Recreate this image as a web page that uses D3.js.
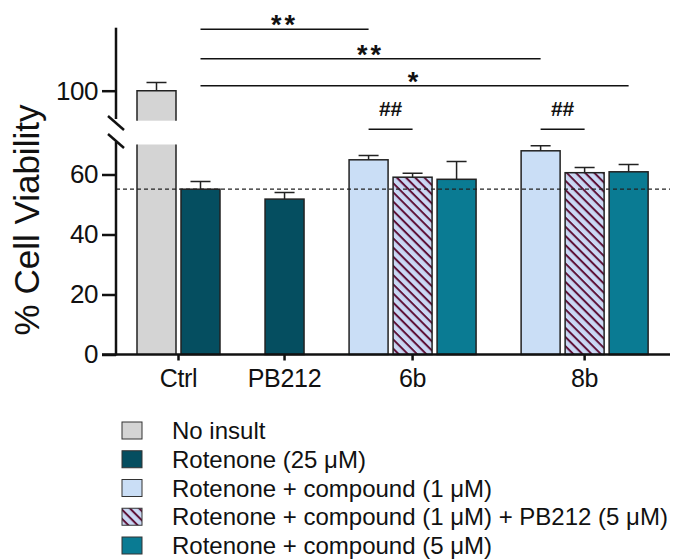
<!DOCTYPE html>
<html>
<head>
<meta charset="utf-8">
<script src="https://cdn.jsdelivr.net/npm/d3@7"></script>
<style>
  body { margin: 0; background: #fff; }
  svg { display: block; font-family: "Liberation Sans", Arial, sans-serif; }
</style>
</head>
<body>
<svg id="chart" width="673" height="559"></svg>
<script>
// data
var groups = ["Ctrl", "PB212", "6b", "8b"];
var treatments = ["noinsult", "rot", "c1", "c1pb", "c5"];
var legendLabels = [
  "No insult",
  "Rotenone (25 \u03bcM)",
  "Rotenone + compound (1 \u03bcM)",
  "Rotenone + compound (1 \u03bcM) + PB212 (5 \u03bcM)",
  "Rotenone + compound (5 \u03bcM)"
];
var barGroup = ["Ctrl", "Ctrl", "PB212", "6b", "6b", "6b", "8b", "8b", "8b"];
var barTreat = ["noinsult", "rot", "rot", "c1", "c1pb", "c5", "c1", "c1pb", "c5"];
var barMean  = [100, 55.1, 51.8, 64.9, 59.1, 58.4, 67.9, 60.6, 60.9];
var barErr   = [2.7, 2.6, 2.2, 1.4, 1.3, 5.9, 1.7, 1.7, 2.4];
var yTicksLow = [0, 20, 40, 60];
var yTicksHigh = [100];
var refLine = 55.1;
// significance brackets: from bar, to bar, label
var sigFrom = [1, 1, 1, 3, 6];
var sigTo   = [3, 6, 8, 4, 7];
var sigText = ["**", "**", "*", "##", "##"];

var svg = d3.select("#chart");
var axisX = 116, baseY = 354.5, xEnd = 670;

var color = d3.scaleOrdinal().domain(treatments)
  .range(["#d4d4d4", "#054e60", "#cadef6", "url(#hatch)", "#0a7b93"]);

// hatched fill
var pat = svg.append("defs").append("pattern")
  .attr("id", "hatch").attr("patternUnits", "userSpaceOnUse")
  .attr("width", 6.5).attr("height", 6.5)
  .attr("patternTransform", "rotate(45)");
pat.append("rect").attr("width", 6.5).attr("height", 6.5).attr("fill", "#cad8f4");
pat.append("rect").attr("width", 6.5).attr("height", 2).attr("fill", "#5e1238");

// broken y axis: two linear segments
var yLow = d3.scaleLinear().domain([0, 70]).range([baseY, 144.5]);
var yHigh = d3.scaleLinear().domain([90, 121]).range([120.7, 27.7]);
function yv(v) { return v > 80 ? yHigh(v) : yLow(v); }

// slot positions: bars 44px apart, extra gap between groups
var slots = barGroup.map(function(g, i) { return i + groups.indexOf(g) * 0.91; });
var x = d3.scaleLinear().domain([0, 1]).range([156.5, 200.5]);
var barW = 39;
function groupCenter(g) {
  return d3.mean(slots.filter(function(s, i) { return barGroup[i] == g; }).map(x));
}

// bars (the no-insult bar is split across the break)
barMean.forEach(function(m, i) {
  var cx = x(slots[i]);
  var g = svg.append("g");
  if (m > 80) {
    g.append("rect").attr("x", cx - barW/2).attr("y", yLow(70)).attr("width", barW)
      .attr("height", baseY - yLow(70));
    g.append("rect").attr("x", cx - barW/2).attr("y", yHigh(m)).attr("width", barW)
      .attr("height", yHigh(90) - yHigh(m));
    g.selectAll("rect").attr("fill", color(barTreat[i])).attr("stroke", "none");
    // open edges at the break
    g.append("path").attr("fill", "none").attr("stroke", "#222").attr("stroke-width", 1.5)
      .attr("d", "M" + (cx - barW/2) + "," + baseY + "V" + yLow(70) +
        "M" + (cx + barW/2) + "," + baseY + "V" + yLow(70) +
        "M" + (cx - barW/2) + "," + yHigh(90) + "V" + yHigh(m) + "H" + (cx + barW/2) + "V" + yHigh(90));
  } else {
    g.append("rect").attr("x", cx - barW/2).attr("y", yLow(m)).attr("width", barW)
      .attr("height", baseY - yLow(m))
      .attr("fill", color(barTreat[i])).attr("stroke", "#222").attr("stroke-width", 1.5);
  }
  var top = yv(m + barErr[i]);
  g.append("path").attr("fill", "none").attr("stroke", "#222").attr("stroke-width", 1.5)
    .attr("d", "M" + cx + "," + yv(m) + "V" + top + "M" + (cx - 10) + "," + top + "H" + (cx + 10));
});

// reference dashed line
svg.append("line").attr("x1", axisX).attr("x2", xEnd)
  .attr("y1", yLow(refLine)).attr("y2", yLow(refLine))
  .attr("stroke", "#222").attr("stroke-width", 1.2).attr("stroke-dasharray", "4,3");

// y axes
var axLow = svg.append("g").attr("transform", "translate(" + axisX + ",0)")
  .call(d3.axisLeft(yLow).tickValues(yTicksLow).tickSize(14).tickPadding(4));
var axHigh = svg.append("g").attr("transform", "translate(" + axisX + ",0)")
  .call(d3.axisLeft(yHigh).tickValues(yTicksHigh).tickSize(14).tickPadding(4));
[axLow, axHigh].forEach(function(a) {
  a.select(".domain").remove();
  a.selectAll("line").attr("stroke", "#111").attr("stroke-width", 2.5);
  a.selectAll("text").attr("font-size", 26).attr("fill", "#111")
    .attr("font-family", "Liberation Sans, Arial, sans-serif").attr("letter-spacing", -0.5);
});
svg.append("line").attr("x1", axisX).attr("x2", axisX).attr("y1", yHigh(121)).attr("y2", 119)
  .attr("stroke", "#111").attr("stroke-width", 2.5);
svg.append("line").attr("x1", axisX).attr("x2", axisX).attr("y1", 142).attr("y2", baseY + 1)
  .attr("stroke", "#111").attr("stroke-width", 2.5);
// break marks
[116, 134].forEach(function(y0) {
  svg.append("line").attr("x1", 108).attr("y1", y0).attr("x2", 124).attr("y2", y0 + 14)
    .attr("stroke", "#111").attr("stroke-width", 2.5);
});

svg.append("text").attr("transform", "translate(39,220) rotate(-90)")
  .attr("text-anchor", "middle").attr("font-size", 35).attr("fill", "#111")
  .text("% Cell Viability");

// x axis
svg.append("line").attr("x1", axisX - 14).attr("x2", xEnd).attr("y1", baseY).attr("y2", baseY)
  .attr("stroke", "#111").attr("stroke-width", 2.5);
groups.forEach(function(g) {
  var cx = groupCenter(g);
  svg.append("line").attr("x1", cx).attr("x2", cx).attr("y1", baseY).attr("y2", baseY + 6)
    .attr("stroke", "#111").attr("stroke-width", 2.5);
  svg.append("text").attr("x", cx).attr("y", 387).attr("text-anchor", "middle")
    .attr("font-size", 25).attr("fill", "#111").attr("letter-spacing", -0.3).text(g);
});

// significance brackets
var sigY = [29.3, 58.7, 85.7, 129.3, 129.3];
sigText.forEach(function(t, k) {
  var x1 = x(slots[sigFrom[k]]), x2 = x(slots[sigTo[k]]);
  svg.append("line").attr("x1", x1).attr("x2", x2).attr("y1", sigY[k]).attr("y2", sigY[k])
    .attr("stroke", "#111").attr("stroke-width", 1.5);
  var isHash = t.charAt(0) == "#";
  svg.append("text").attr("x", (x1 + x2) / 2).attr("y", isHash ? sigY[k] - 13 : sigY[k] + 5)
    .attr("text-anchor", "middle").attr("font-weight", "bold")
    .attr("letter-spacing", isHash ? 0 : 3)
    .attr("font-size", isHash ? 21 : 27).attr("fill", "#111").text(t);
});

// legend
var leg = svg.append("g").attr("transform", "translate(122,422)");
legendLabels.forEach(function(l, i) {
  var row = leg.append("g").attr("transform", "translate(0," + i * 28.75 + ")");
  row.append("rect").attr("width", 20).attr("height", 17)
    .attr("fill", color(treatments[i])).attr("stroke", "#333").attr("stroke-width", 1);
  row.append("text").attr("x", 50).attr("y", 17).attr("font-size", 24)
    .attr("fill", "#111").text(l);
});
</script>
</body>
</html>
